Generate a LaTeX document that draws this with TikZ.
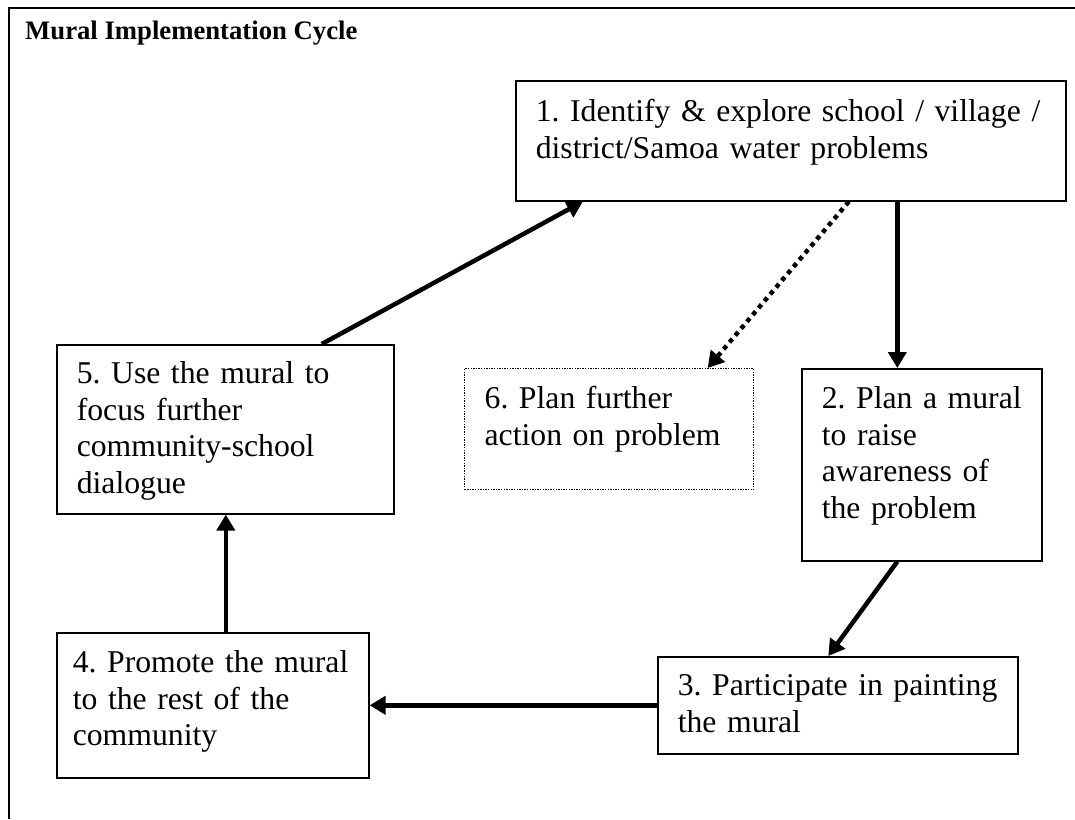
\documentclass[tikz,border=0pt]{standalone}
\usepackage{fontspec}
\setmainfont{Liberation Serif}
\usetikzlibrary{arrows.meta,calc}

\newcommand{\cyclefont}{\fontsize{31.7}{36.5}\selectfont\frenchspacing\hyphenpenalty=10000\exhyphenpenalty=10000}

\begin{document}
\begin{tikzpicture}[x=1pt, y=-1pt,
  every node/.style={font=\cyclefont},
  stage/.style ={rectangle, draw, line width=1.6pt, anchor=north west,
                 align=left, inner xsep=20pt, inner ysep=0pt, text height=40pt},
  option/.style={stage, line width=1.3pt, dash pattern=on 1.4pt off 1.2pt},
  frame/.style ={line width=2pt},
  arr/.style   ={-{Triangle[length=16pt,width=18pt]}, line width=4.5pt},
  darr/.style  ={arr, dash pattern=on 4.5pt off 4.5pt}
]
  \useasboundingbox (0,0) rectangle (1075,819);
  \draw[frame] (9,819) -- (9,8) -- (1075,8);

  \node[anchor=base west, inner sep=0pt, font=\fontsize{26.7}{30}\selectfont\bfseries]
       (title) at (25,39) {Mural Implementation Cycle};

  \node[stage, text width=510pt, text height=41pt, text depth=79pt]  (s1) at (515,80)
       {1. Identify \& explore school / village /\\district/Samoa water problems};
  \node[stage, text width=200pt, text depth=152pt]                   (s2) at (801,368)
       {2. Plan a mural\\to raise\\awareness of\\the problem};
  \node[stage, text width=320pt, text height=39pt, text depth=58pt]  (s3) at (657,656)
       {3. Participate in painting\\the mural};
  \node[stage, inner xsep=16pt, text width=280pt, text depth=105pt]  (s4) at (56,632)
       {4. Promote the mural\\to the rest of the\\community};
  \node[stage, text width=297pt, text height=39pt, text depth=130pt] (s5) at (56,344)
       {5. Use the mural to\\focus further\\community-school\\dialogue};
  \node[option, text width=249pt, text depth=81pt]                   (s6) at (464,368)
       {6. Plan further\\action on problem};

  \draw[arr]  ([xshift=-24.5pt]s2.north |- s1.south) -- ([xshift=-24.5pt]s2.north);
  \draw[arr]  ([xshift=-24.5pt]s2.south) -- ([xshift=-9.5pt]s3.north);
  \draw[arr]  (s3.west) -- (s3.west -| s4.east);
  \draw[arr]  ([xshift=13pt]s4.north) -- ([xshift=13pt]s4.north |- s5.south);
  \draw[arr]  ([xshift=96.5pt]s5.north) -- ([xshift=-208pt]s1.south);
  \draw[darr] ([xshift=58pt]s1.south) -- ([xshift=98.5pt]s6.north);
\end{tikzpicture}
\end{document}
